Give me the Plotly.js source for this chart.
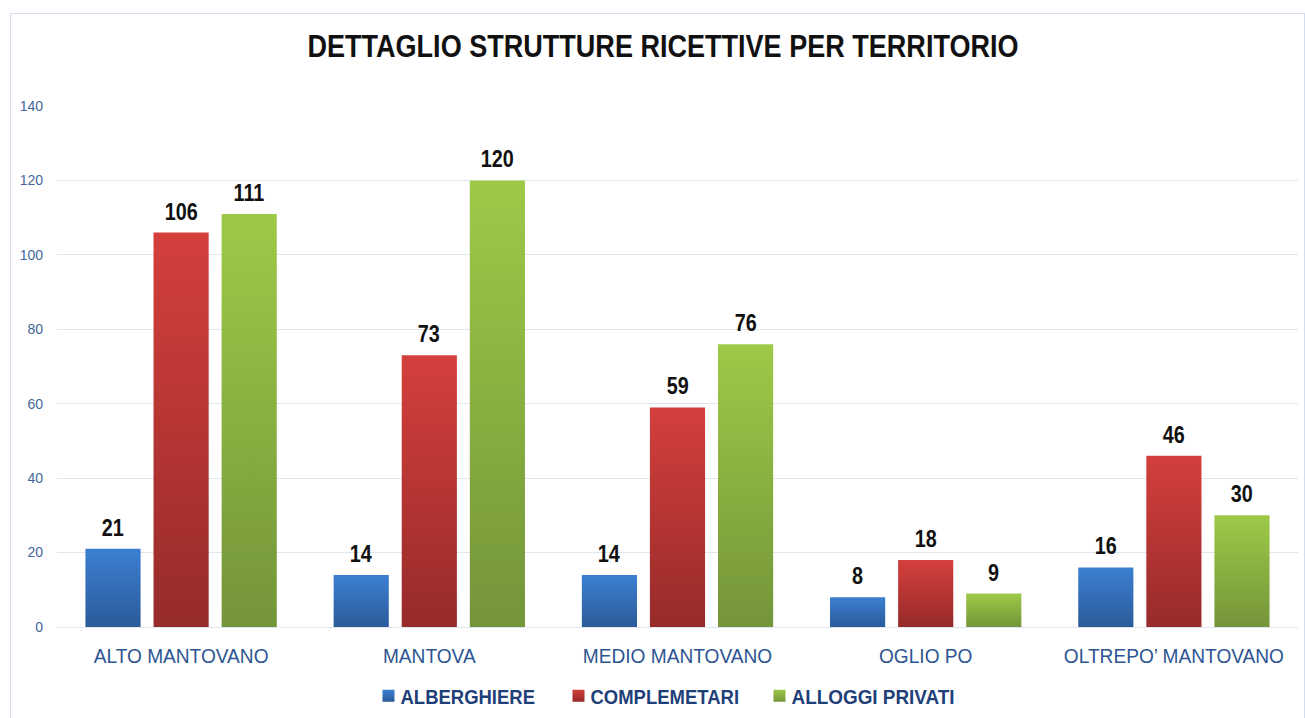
<!DOCTYPE html>
<html>
<head>
<meta charset="utf-8">
<script src="https://cdn.plot.ly/plotly-3.0.1.min.js"></script>
<style>
  html, body { margin: 0; padding: 0; background: #ffffff; }
  #frame { position: absolute; left: 10px; top: 13px; width: 1293px; height: 720px;
           border-left: 1px solid #d3deec; border-top: 1px solid #d3deec; border-right: 1px solid #d3deec;
           pointer-events: none; z-index: 5; }
  #chart { width: 1305px; height: 718px; }
</style>
</head>
<body>
<div id="frame"></div>
<div id="chart"></div>
<script>
const categories = ["ALTO MANTOVANO", "MANTOVA", "MEDIO MANTOVANO", "OGLIO PO", "OLTREPO\u2019 MANTOVANO"];
const seriesNames = ["ALBERGHIERE", "COMPLEMETARI", "ALLOGGI PRIVATI"];
const alberghiere = [21, 14, 14, 8, 16];
const complementari = [106, 73, 59, 18, 46];
const alloggiPrivati = [111, 120, 76, 9, 30];
const yTicks = [0, 20, 40, 60, 80, 100, 120, 140];

const seriesValues = [alberghiere, complementari, alloggiPrivati];
const solidColors = ["#3371bd", "#bb3533", "#8db341"];
const gradStops = [
  ["#3c7fd2", "#2b5b99"],
  ["#d43f3c", "#962b2a"],
  ["#9ec947", "#74953a"]
];
const legendWidths = [145, 156, 170];

const SANS = '"Liberation Sans", Arial, sans-serif';
const BARGAP = 0.177, GROUPGAP = 0.19;

const traces = seriesValues.map((vals, i) => ({
  type: "bar",
  name: seriesNames[i],
  x: categories,
  y: vals,
  marker: { color: solidColors[i], line: { width: 0 } },
  legendwidth: legendWidths[i],
  hoverinfo: "x+y+name"
}));

// value labels placed above each bar via the axis scales
const slot = (1 - BARGAP) / 3;
const annotations = [];
seriesValues.forEach((vals, s) => {
  vals.forEach((v, c) => {
    annotations.push({
      x: c + (s - 1) * slot, y: v, xref: "x", yref: "y",
      text: "<b>" + v + "</b>", showarrow: false,
      yanchor: "bottom", yshift: 6,
      font: { family: SANS, size: 23, color: "#111111" }
    });
  });
});

const layout = {
  width: 1305, height: 718,
  paper_bgcolor: "#ffffff", plot_bgcolor: "#ffffff",
  margin: { l: 57, r: 7, t: 106, b: 91, autoexpand: false },
  title: {
    text: "<b>DETTAGLIO STRUTTURE RICETTIVE PER TERRITORIO</b>",
    font: { family: SANS, size: 32, color: "#111111" },
    x: 663 / 1305, xanchor: "center", y: 1 - 46 / 718, yanchor: "middle", yref: "container"
  },
  barmode: "group",
  bargap: BARGAP,
  bargroupgap: GROUPGAP,
  xaxis: {
    type: "category",
    tickfont: { family: SANS, size: 21, color: "#2d5592" },
    showgrid: false, showline: false, zeroline: false, ticks: "",
    ticklabelstandoff: 14
  },
  yaxis: {
    range: [0, 140], tickvals: yTicks, ticktext: yTicks.map(String),
    tickfont: { family: SANS, size: 14, color: "#44679b" },
    gridcolor: "#dfe6f0", gridwidth: 1,
    zeroline: true, zerolinecolor: "#dfe6f0", zerolinewidth: 1,
    showline: false, ticks: "", ticklabelstandoff: 13
  },
  showlegend: true,
  legend: {
    orientation: "h", x: 0.5 - 6 / 1241, xanchor: "center", y: -(696 - 627) / 521, yanchor: "middle",
    font: { family: SANS, size: 21, color: "#1f3f78", weight: "bold" },
    itemwidth: 30, traceorder: "normal"
  },
  annotations: annotations
};

function squeeze(el, f) {
  const len = el.getComputedTextLength();
  if (len > 0) {
    el.setAttribute("textLength", (len * f).toFixed(2));
    el.setAttribute("lengthAdjust", "spacingAndGlyphs");
  }
}

Plotly.newPlot("chart", traces, layout, { displayModeBar: false, responsive: false }).then(gd => {
  const svg = gd.querySelector("svg.main-svg");
  const ns = "http://www.w3.org/2000/svg";
  let defs = svg.querySelector("defs");
  if (!defs) { defs = document.createElementNS(ns, "defs"); svg.insertBefore(defs, svg.firstChild); }
  gradStops.forEach((st, i) => {
    const g = document.createElementNS(ns, "linearGradient");
    g.setAttribute("id", "barGrad" + i);
    g.setAttribute("x1", "0"); g.setAttribute("y1", "0");
    g.setAttribute("x2", "0"); g.setAttribute("y2", "1");
    [[0, st[0]], [1, st[1]]].forEach(([o, c]) => {
      const s = document.createElementNS(ns, "stop");
      s.setAttribute("offset", o); s.setAttribute("stop-color", c);
      g.appendChild(s);
    });
    defs.appendChild(g);
  });
  gd.querySelectorAll(".barlayer .trace").forEach((t, i) => {
    t.querySelectorAll("path").forEach(p => { p.style.fill = "url(#barGrad" + i + ")"; });
  });
  gd.querySelectorAll(".legend .traces").forEach((t, i) => {
    t.querySelectorAll(".legendpoints path").forEach(p => { p.style.fill = "url(#barGrad" + i + ")"; p.style.stroke = "none"; });
  });
  // narrow-type look (condensed glyphs)
  gd.querySelectorAll(".gtitle").forEach(el => squeeze(el, 0.845));
  gd.querySelectorAll(".xtick text").forEach(el => squeeze(el, 0.91));
  gd.querySelectorAll(".annotation-text").forEach(el => squeeze(el, 0.86));
  const legendSqueeze = [0.88, 0.88, 0.9];
  gd.querySelectorAll(".legend .traces").forEach((t, i) => {
    const el = t.querySelector(".legendtext");
    if (!el) return;
    squeeze(el, legendSqueeze[i]);
    const x0 = parseFloat(el.getAttribute("x")) || 40;
    el.setAttribute("x", x0 - 8);
  });
});
</script>
</body>
</html>
